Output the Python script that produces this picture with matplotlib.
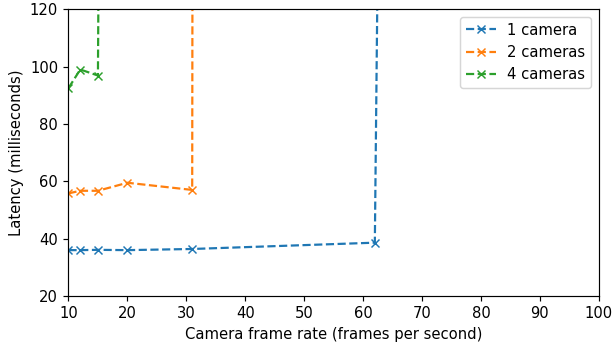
import matplotlib
matplotlib.use("Agg")
import matplotlib.pyplot as plt

# Frame rate (fps) vs latency (ms); the last point of each series is far off-chart
fps_1 = [10, 12, 15, 20, 31, 62, 63]
lat_1 = [36.0, 36.0, 36.1, 36.0, 36.4, 38.6, 240]

fps_2 = [10, 12, 15, 20, 31, 31.2]
lat_2 = [55.8, 56.7, 56.7, 59.5, 57.0, 400]

fps_4 = [10, 12, 15, 15.3]
lat_4 = [92.5, 99.0, 96.9, 200]

dpi = 106
fig, ax = plt.subplots(figsize=(613 / dpi, 342 / dpi), dpi=dpi)

ax.plot(fps_1, lat_1, 'x--', label='1 camera')
ax.plot(fps_2, lat_2, 'x--', label='2 cameras')
ax.plot(fps_4, lat_4, 'x--', label='4 cameras')

ax.set_xlim(10, 100)
ax.set_ylim(20, 120)
ax.set_xlabel('Camera frame rate (frames per second)')
ax.set_ylabel('Latency (milliseconds)')
ax.legend(loc='upper right')

fig.subplots_adjust(left=0.1117, right=0.9767, top=0.9728, bottom=0.1345)
fig.savefig('out.png', dpi=dpi)
